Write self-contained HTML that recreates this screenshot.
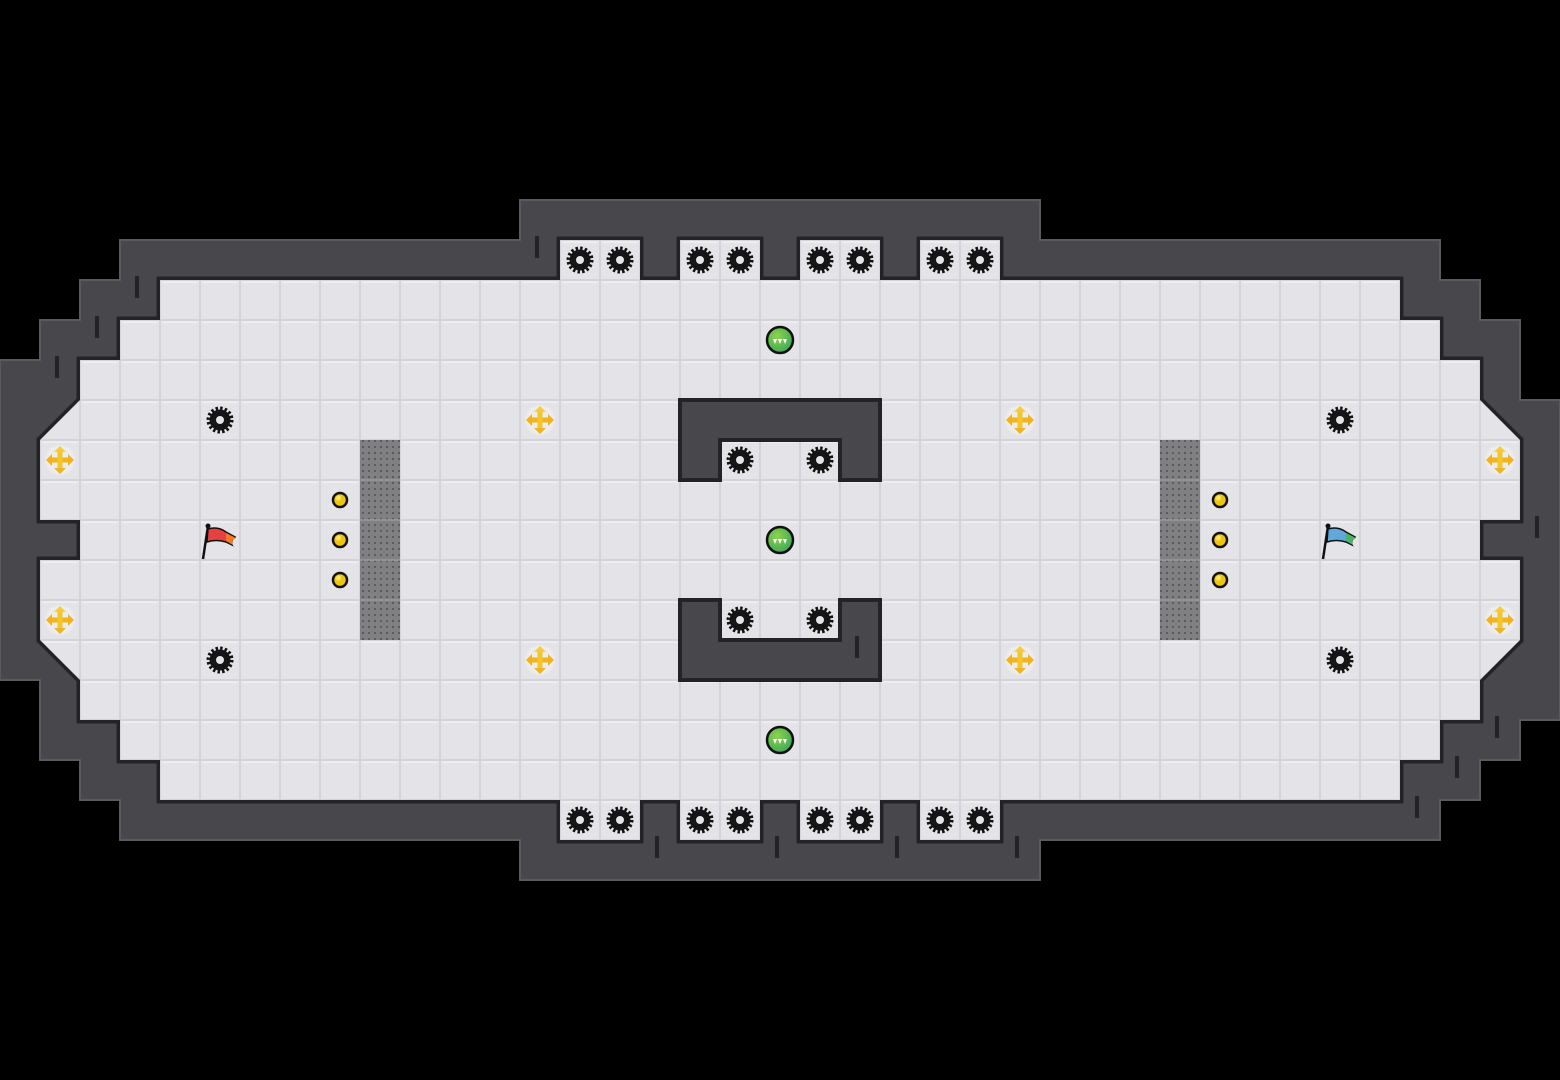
<!DOCTYPE html>
<html><head><meta charset="utf-8"><style>
html,body{margin:0;padding:0;background:#000;}
svg{display:block;}
</style></head><body>
<svg width="1560" height="1080" viewBox="0 0 1560 1080" xmlns="http://www.w3.org/2000/svg">
<defs>
<pattern id="tile" width="40" height="40" patternUnits="userSpaceOnUse">
<rect width="40" height="40" fill="#d3d3d8"/>
<rect x="1" y="1" width="38" height="38" fill="#e4e4e8"/>
<rect x="1" y="1" width="38" height="2" fill="#ededf0"/>
</pattern>
<pattern id="dots" width="6" height="6" patternUnits="userSpaceOnUse">
<rect width="6" height="6" fill="#808083"/>
<rect x="2" y="2" width="2" height="2" fill="#5c5c5f"/>
</pattern>
<radialGradient id="gb" cx="0.4" cy="0.35" r="0.7">
<stop offset="0" stop-color="#8fd44a"/><stop offset="1" stop-color="#3aa55a"/>
</radialGradient>
<g id="spike">
<circle r="11.5" fill="none" stroke="#111" stroke-width="4" stroke-dasharray="2.4 2.1"/>
<circle r="10.5" fill="#151515"/>
<circle r="4" fill="#e4e4e8"/>
</g>
<g id="boost">
<circle r="15" fill="#ececf0" opacity="0.9"/>
<rect x="-10" y="-2.5" width="20" height="5" fill="#f2b31c"/>
<rect x="-2.5" y="-10" width="5" height="20" fill="#f5c52a"/>
<polygon points="-14,0 -8,-6 -8,6" fill="#f2b31c"/>
<polygon points="14,0 8,-6 8,6" fill="#f2b31c"/>
<polygon points="0,-14 -6,-8 6,-8" fill="#f7cc3a"/>
<polygon points="0,14 -6,8 6,8" fill="#f2b31c"/>
</g>
<g id="ball">
<circle r="13" fill="url(#gb)" stroke="#111" stroke-width="2.5"/>
<polygon points="-7,-1 -3,-1 -5,4" fill="#fff"/>
<polygon points="-2,-1 2,-1 0,4" fill="#fff"/>
<polygon points="3,-1 7,-1 5,4" fill="#fff"/>
</g>
<g id="dot"><circle r="7" fill="#f1c40f" stroke="#111" stroke-width="2.5"/><circle cx="-1.5" cy="-2" r="2.5" fill="#fbe36a"/></g>
</defs>

<!-- walls -->
<polygon points="520,200 1040,200 1040,240 1440,240 1440,280 1480,280 1480,320 1520,320 1520,400 1560,400 1560,720 1520,720 1520,760 1480,760 1480,800 1440,800 1440,840 1040,840 1040,880 520,880 520,840 120,840 120,800 80,800 80,760 40,760 40,680 0,680 0,360 40,360 40,320 80,320 80,280 120,280 120,240 520,240" fill="#48474c" stroke="#5a595e" stroke-width="2"/>

<!-- floor shadow (dark edge) -->
<g fill="#232326" stroke="#232326" stroke-width="7" stroke-linejoin="miter">
<rect x="560" y="240" width="80" height="40"/><rect x="680" y="240" width="80" height="40"/><rect x="800" y="240" width="80" height="40"/><rect x="920" y="240" width="80" height="40"/>
<rect x="560" y="800" width="80" height="40"/><rect x="680" y="800" width="80" height="40"/><rect x="800" y="800" width="80" height="40"/><rect x="920" y="800" width="80" height="40"/>
<polygon points="160,280 1400,280 1400,320 1440,320 1440,360 1480,360 1480,400 1520,440 1520,520 1480,520 1480,560 1520,560 1520,640 1480,680 1480,720 1440,720 1440,760 1400,760 1400,800 160,800 160,760 120,760 120,720 80,720 80,680 40,640 40,560 80,560 80,520 40,520 40,440 80,400 80,360 120,360 120,320 160,320"/>
</g>
<g fill="url(#tile)">
<rect x="560" y="240" width="80" height="40"/><rect x="680" y="240" width="80" height="40"/><rect x="800" y="240" width="80" height="40"/><rect x="920" y="240" width="80" height="40"/>
<rect x="560" y="800" width="80" height="40"/><rect x="680" y="800" width="80" height="40"/><rect x="800" y="800" width="80" height="40"/><rect x="920" y="800" width="80" height="40"/>
<polygon points="160,280 1400,280 1400,320 1440,320 1440,360 1480,360 1480,400 1520,440 1520,520 1480,520 1480,560 1520,560 1520,640 1480,680 1480,720 1440,720 1440,760 1400,760 1400,800 160,800 160,760 120,760 120,720 80,720 80,680 40,640 40,560 80,560 80,520 40,520 40,440 80,400 80,360 120,360 120,320 160,320"/>
</g>
<!-- re-cover spike tile junctions -->
<g fill="url(#tile)">
<rect x="560" y="272" width="80" height="12"/><rect x="680" y="272" width="80" height="12"/><rect x="800" y="272" width="80" height="12"/><rect x="920" y="272" width="80" height="12"/>
<rect x="560" y="796" width="80" height="8"/><rect x="680" y="796" width="80" height="8"/><rect x="800" y="796" width="80" height="8"/><rect x="920" y="796" width="80" height="8"/>
</g>

<!-- center structures -->
<polygon points="680,400 880,400 880,480 840,480 840,440 720,440 720,480 680,480" fill="#48474c" stroke="#232326" stroke-width="4"/>
<polygon points="680,600 720,600 720,640 840,640 840,600 880,600 880,680 680,680" fill="#48474c" stroke="#232326" stroke-width="4"/>

<!-- wall ticks -->
<g fill="#232326">
<rect x="535" y="236" width="4" height="22"/><rect x="135" y="276" width="4" height="22"/><rect x="95" y="316" width="4" height="22"/><rect x="55" y="356" width="4" height="22"/>
<rect x="1535" y="516" width="4" height="22"/><rect x="1495" y="716" width="4" height="22"/><rect x="1455" y="756" width="4" height="22"/><rect x="1415" y="796" width="4" height="22"/>
<rect x="655" y="836" width="4" height="22"/><rect x="775" y="836" width="4" height="22"/><rect x="895" y="836" width="4" height="22"/><rect x="1015" y="836" width="4" height="22"/>
<rect x="855" y="636" width="4" height="22"/>
</g>

<!-- gates -->
<rect x="360" y="440" width="40" height="200" fill="url(#dots)"/>
<rect x="1160" y="440" width="40" height="200" fill="url(#dots)"/>
<g stroke="#9a9a9d" stroke-width="1.5">
<line x1="360" y1="480" x2="400" y2="480"/><line x1="360" y1="520" x2="400" y2="520"/><line x1="360" y1="560" x2="400" y2="560"/><line x1="360" y1="600" x2="400" y2="600"/>
<line x1="1160" y1="480" x2="1200" y2="480"/><line x1="1160" y1="520" x2="1200" y2="520"/><line x1="1160" y1="560" x2="1200" y2="560"/><line x1="1160" y1="600" x2="1200" y2="600"/>
</g>

<!-- spikes -->
<use href="#spike" x="580" y="260"/><use href="#spike" x="620" y="260"/><use href="#spike" x="700" y="260"/><use href="#spike" x="740" y="260"/>
<use href="#spike" x="820" y="260"/><use href="#spike" x="860" y="260"/><use href="#spike" x="940" y="260"/><use href="#spike" x="980" y="260"/>
<use href="#spike" x="580" y="820"/><use href="#spike" x="620" y="820"/><use href="#spike" x="700" y="820"/><use href="#spike" x="740" y="820"/>
<use href="#spike" x="820" y="820"/><use href="#spike" x="860" y="820"/><use href="#spike" x="940" y="820"/><use href="#spike" x="980" y="820"/>
<use href="#spike" x="220" y="420"/><use href="#spike" x="220" y="660"/><use href="#spike" x="1340" y="420"/><use href="#spike" x="1340" y="660"/>
<use href="#spike" x="740" y="460"/><use href="#spike" x="820" y="460"/><use href="#spike" x="740" y="620"/><use href="#spike" x="820" y="620"/>

<!-- boosts -->
<use href="#boost" x="540" y="420"/><use href="#boost" x="540" y="660"/><use href="#boost" x="1020" y="420"/><use href="#boost" x="1020" y="660"/>
<use href="#boost" x="60" y="460"/><use href="#boost" x="60" y="620"/><use href="#boost" x="1500" y="460"/><use href="#boost" x="1500" y="620"/>

<use href="#ball" x="780" y="340"/><use href="#ball" x="780" y="540"/><use href="#ball" x="780" y="740"/>

<use href="#dot" x="340" y="500"/><use href="#dot" x="340" y="540"/><use href="#dot" x="340" y="580"/>
<use href="#dot" x="1220" y="500"/><use href="#dot" x="1220" y="540"/><use href="#dot" x="1220" y="580"/>

<!-- flags -->
<g transform="translate(202,524)">
<line x1="6" y1="2" x2="1" y2="35" stroke="#111" stroke-width="2.5"/>
<circle cx="6" cy="2" r="2.5" fill="#111"/>
<path d="M6,5 Q16,2 24,8 L33,13 Q28,17 30,21 L24,18 Q14,15 5,18 Z" fill="#e8403f" stroke="#111" stroke-width="1.5"/>
<path d="M24,9 L34,14 Q28,17 31,21 L24,17 Z" fill="#f07a2a"/>
</g>
<g transform="translate(1322,524)">
<line x1="6" y1="2" x2="1" y2="35" stroke="#111" stroke-width="2.5"/>
<circle cx="6" cy="2" r="2.5" fill="#111"/>
<path d="M6,5 Q16,2 24,8 L33,13 Q28,17 30,21 L24,18 Q14,15 5,18 Z" fill="#5fa8d8" stroke="#111" stroke-width="1.5"/>
<path d="M24,9 L34,14 Q28,17 31,21 L24,17 Z" fill="#4bb36a"/>
</g>
</svg>
</body></html>
